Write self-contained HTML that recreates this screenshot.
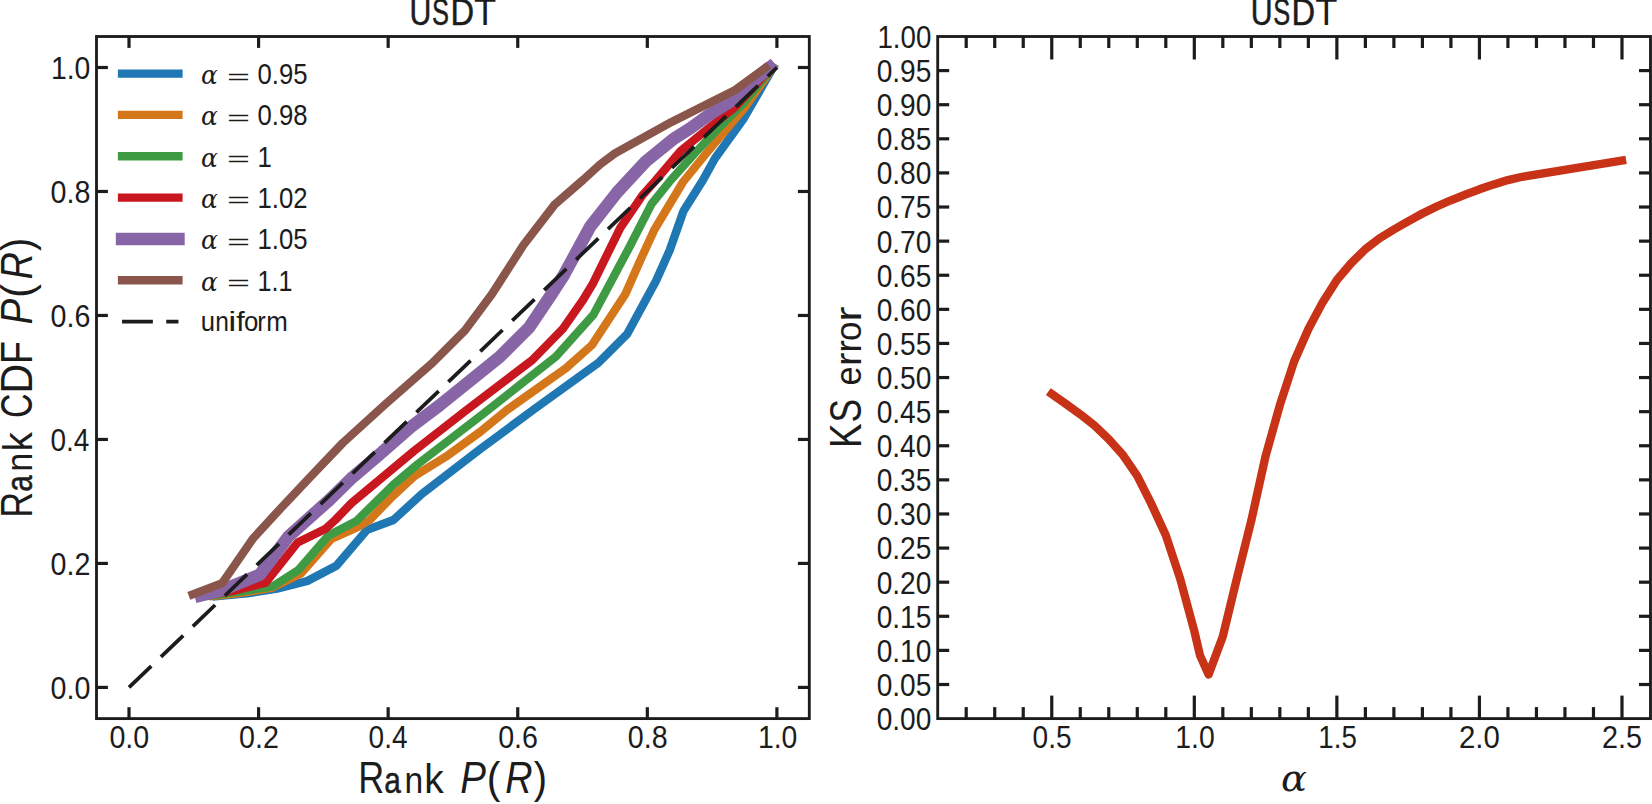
<!DOCTYPE html>
<html lang="en"><head><meta charset="utf-8"><title>USDT rank CDF and KS error</title>
<style>html,body{margin:0;padding:0;background:#fff;overflow:hidden}svg{display:block}</style></head><body>
<svg width="1652" height="804" viewBox="0 0 1652 804">
<rect x="0" y="0" width="1652" height="804" fill="#ffffff"/>
<g id="left-panel">
<polyline points="216.5,596.2 247.2,593.4 277.0,588.7 307.3,581.0 336.4,565.7 367.0,529.9 393.4,520.0 421.8,494.0 480.0,449.3 533.7,409.5 598.3,362.9 627.2,334.0 656.1,280.8 669.8,250.0 683.5,211.0 703.0,180.0 714.9,158.5 743.9,118.2 773.1,67.5" fill="none" stroke="#1f77b4" stroke-width="8.33" stroke-linecap="square" stroke-linejoin="round"/>
<polyline points="213.2,595.9 240.0,593.0 271.5,588.0 300.9,573.6 331.3,539.0 358.5,526.6 369.6,520.0 390.4,498.5 414.3,476.1 445.7,456.8 480.0,432.0 506.9,410.0 566.0,368.2 592.0,345.0 625.3,294.2 640.0,261.0 654.6,229.3 683.0,182.0 704.5,155.5 719.4,137.6 744.5,107.8 772.8,67.5" fill="none" stroke="#d4761a" stroke-width="8.33" stroke-linecap="square" stroke-linejoin="round"/>
<polyline points="210.0,595.6 240.0,591.5 273.0,586.3 298.4,570.1 328.2,535.8 356.6,520.9 393.4,484.6 417.3,464.5 483.0,414.0 556.0,356.5 593.6,314.4 630.0,246.0 651.6,203.9 670.9,180.0 695.5,152.5 719.4,127.2 743.3,103.3 772.3,67.5" fill="none" stroke="#3f9b43" stroke-width="8.33" stroke-linecap="square" stroke-linejoin="round"/>
<polyline points="207.0,595.3 231.6,591.2 265.5,582.8 297.6,542.5 325.2,529.1 335.2,520.0 351.6,503.0 414.3,450.7 466.6,410.0 532.2,360.1 562.8,328.8 583.0,300.0 593.0,283.3 620.3,227.8 642.7,194.9 656.0,180.0 680.6,151.0 704.5,131.6 734.3,107.8 771.5,67.5" fill="none" stroke="#c8171f" stroke-width="8.33" stroke-linecap="square" stroke-linejoin="round"/>
<polyline points="200.9,595.5 222.0,590.3 260.0,574.6 288.3,536.7 329.3,500.0 350.6,479.1 378.5,455.2 412.8,425.4 440.0,405.0 499.4,357.2 529.3,327.3 551.0,295.0 563.6,275.5 590.4,226.3 617.0,192.5 645.7,161.5 673.0,139.3 690.0,128.5 708.0,115.5 732.5,100.2 753.6,80.8 769.8,67.5" fill="none" stroke="#8865a6" stroke-width="12.5" stroke-linecap="square" stroke-linejoin="round"/>
<polyline points="192.7,594.3 222.2,583.1 252.8,538.8 281.5,507.5 309.9,477.3 342.7,443.0 385.0,404.5 432.2,363.1 465.1,330.3 492.0,294.0 523.3,245.3 554.6,204.6 583.0,180.0 600.0,164.5 614.9,153.3 671.6,121.9 734.3,90.6 765.5,67.7" fill="none" stroke="#8a564c" stroke-width="8.33" stroke-linecap="square" stroke-linejoin="round"/>
<line x1="129.00" y1="687.40" x2="776.90" y2="67.50" stroke="#1c1c1c" stroke-width="3.75" stroke-dasharray="30.8 13.4" stroke-linecap="butt"/>
<line x1="129.00" y1="718.60" x2="129.00" y2="707.20" stroke="#1c1c1c" stroke-width="3.2" stroke-linecap="butt"/>
<line x1="129.00" y1="36.50" x2="129.00" y2="47.90" stroke="#1c1c1c" stroke-width="3.2" stroke-linecap="butt"/>
<line x1="96.50" y1="687.40" x2="107.90" y2="687.40" stroke="#1c1c1c" stroke-width="3.2" stroke-linecap="butt"/>
<line x1="809.30" y1="687.40" x2="797.90" y2="687.40" stroke="#1c1c1c" stroke-width="3.2" stroke-linecap="butt"/>
<line x1="258.58" y1="718.60" x2="258.58" y2="707.20" stroke="#1c1c1c" stroke-width="3.2" stroke-linecap="butt"/>
<line x1="258.58" y1="36.50" x2="258.58" y2="47.90" stroke="#1c1c1c" stroke-width="3.2" stroke-linecap="butt"/>
<line x1="96.50" y1="563.42" x2="107.90" y2="563.42" stroke="#1c1c1c" stroke-width="3.2" stroke-linecap="butt"/>
<line x1="809.30" y1="563.42" x2="797.90" y2="563.42" stroke="#1c1c1c" stroke-width="3.2" stroke-linecap="butt"/>
<line x1="388.16" y1="718.60" x2="388.16" y2="707.20" stroke="#1c1c1c" stroke-width="3.2" stroke-linecap="butt"/>
<line x1="388.16" y1="36.50" x2="388.16" y2="47.90" stroke="#1c1c1c" stroke-width="3.2" stroke-linecap="butt"/>
<line x1="96.50" y1="439.44" x2="107.90" y2="439.44" stroke="#1c1c1c" stroke-width="3.2" stroke-linecap="butt"/>
<line x1="809.30" y1="439.44" x2="797.90" y2="439.44" stroke="#1c1c1c" stroke-width="3.2" stroke-linecap="butt"/>
<line x1="517.74" y1="718.60" x2="517.74" y2="707.20" stroke="#1c1c1c" stroke-width="3.2" stroke-linecap="butt"/>
<line x1="517.74" y1="36.50" x2="517.74" y2="47.90" stroke="#1c1c1c" stroke-width="3.2" stroke-linecap="butt"/>
<line x1="96.50" y1="315.46" x2="107.90" y2="315.46" stroke="#1c1c1c" stroke-width="3.2" stroke-linecap="butt"/>
<line x1="809.30" y1="315.46" x2="797.90" y2="315.46" stroke="#1c1c1c" stroke-width="3.2" stroke-linecap="butt"/>
<line x1="647.32" y1="718.60" x2="647.32" y2="707.20" stroke="#1c1c1c" stroke-width="3.2" stroke-linecap="butt"/>
<line x1="647.32" y1="36.50" x2="647.32" y2="47.90" stroke="#1c1c1c" stroke-width="3.2" stroke-linecap="butt"/>
<line x1="96.50" y1="191.48" x2="107.90" y2="191.48" stroke="#1c1c1c" stroke-width="3.2" stroke-linecap="butt"/>
<line x1="809.30" y1="191.48" x2="797.90" y2="191.48" stroke="#1c1c1c" stroke-width="3.2" stroke-linecap="butt"/>
<line x1="776.90" y1="718.60" x2="776.90" y2="707.20" stroke="#1c1c1c" stroke-width="3.2" stroke-linecap="butt"/>
<line x1="776.90" y1="36.50" x2="776.90" y2="47.90" stroke="#1c1c1c" stroke-width="3.2" stroke-linecap="butt"/>
<line x1="96.50" y1="67.50" x2="107.90" y2="67.50" stroke="#1c1c1c" stroke-width="3.2" stroke-linecap="butt"/>
<line x1="809.30" y1="67.50" x2="797.90" y2="67.50" stroke="#1c1c1c" stroke-width="3.2" stroke-linecap="butt"/>
<rect x="96.5" y="36.5" width="712.80" height="682.10" fill="none" stroke="#1c1c1c" stroke-width="2.85"/>
<text x="109.44" y="747.60" font-family='"Liberation Sans", "DejaVu Sans", sans-serif' font-size="31.5" fill="#1c1c1c" textLength="39.84" lengthAdjust="spacingAndGlyphs">0.0</text>
<text x="50.49" y="698.80" font-family='"Liberation Sans", "DejaVu Sans", sans-serif' font-size="31.5" fill="#1c1c1c" textLength="39.84" lengthAdjust="spacingAndGlyphs">0.0</text>
<text x="239.02" y="747.60" font-family='"Liberation Sans", "DejaVu Sans", sans-serif' font-size="31.5" fill="#1c1c1c" textLength="39.84" lengthAdjust="spacingAndGlyphs">0.2</text>
<text x="50.49" y="574.82" font-family='"Liberation Sans", "DejaVu Sans", sans-serif' font-size="31.5" fill="#1c1c1c" textLength="39.84" lengthAdjust="spacingAndGlyphs">0.2</text>
<text x="368.62" y="747.60" font-family='"Liberation Sans", "DejaVu Sans", sans-serif' font-size="31.5" fill="#1c1c1c" textLength="38.90" lengthAdjust="spacingAndGlyphs">0.4</text>
<text x="50.51" y="450.84" font-family='"Liberation Sans", "DejaVu Sans", sans-serif' font-size="31.5" fill="#1c1c1c" textLength="38.90" lengthAdjust="spacingAndGlyphs">0.4</text>
<text x="498.18" y="747.60" font-family='"Liberation Sans", "DejaVu Sans", sans-serif' font-size="31.5" fill="#1c1c1c" textLength="39.84" lengthAdjust="spacingAndGlyphs">0.6</text>
<text x="50.49" y="326.86" font-family='"Liberation Sans", "DejaVu Sans", sans-serif' font-size="31.5" fill="#1c1c1c" textLength="39.84" lengthAdjust="spacingAndGlyphs">0.6</text>
<text x="627.76" y="747.60" font-family='"Liberation Sans", "DejaVu Sans", sans-serif' font-size="31.5" fill="#1c1c1c" textLength="39.84" lengthAdjust="spacingAndGlyphs">0.8</text>
<text x="50.49" y="202.88" font-family='"Liberation Sans", "DejaVu Sans", sans-serif' font-size="31.5" fill="#1c1c1c" textLength="39.84" lengthAdjust="spacingAndGlyphs">0.8</text>
<text x="757.90" y="747.60" font-family='"Liberation Sans", "DejaVu Sans", sans-serif' font-size="31.5" fill="#1c1c1c" textLength="39.42" lengthAdjust="spacingAndGlyphs">1.0</text>
<text x="50.90" y="78.90" font-family='"Liberation Sans", "DejaVu Sans", sans-serif' font-size="31.5" fill="#1c1c1c" textLength="39.42" lengthAdjust="spacingAndGlyphs">1.0</text>
<text y="25.00" font-family='"Liberation Sans", "DejaVu Sans", sans-serif' fill="#1c1c1c"><tspan x="409.60" font-size="36.3" stroke="#1c1c1c" stroke-width="0.5" textLength="21.89" lengthAdjust="spacingAndGlyphs">U</tspan><tspan x="432.00" font-size="36.3" stroke="#1c1c1c" stroke-width="0.5" textLength="16.95" lengthAdjust="spacingAndGlyphs">S</tspan><tspan x="450.40" font-size="36.3" stroke="#1c1c1c" stroke-width="0.5" textLength="23.60" lengthAdjust="spacingAndGlyphs">D</tspan><tspan x="474.00" font-size="36.3" textLength="22.17" lengthAdjust="spacingAndGlyphs">T</tspan></text>
<text y="793.30" font-family='"Liberation Sans", "DejaVu Sans", sans-serif' fill="#1c1c1c"><tspan x="358.25" font-size="43.5" textLength="25.95" lengthAdjust="spacingAndGlyphs">R</tspan><tspan x="384.26" font-size="36.3" stroke="#1c1c1c" stroke-width="0.5" textLength="16.60" lengthAdjust="spacingAndGlyphs">a</tspan><tspan x="404.55" font-size="36.3" textLength="18.67" lengthAdjust="spacingAndGlyphs">n</tspan><tspan x="424.35" font-size="41.0" textLength="19.48" lengthAdjust="spacingAndGlyphs">k</tspan> <tspan x="460.21" font-size="43.5" font-style="italic" textLength="25.70" lengthAdjust="spacingAndGlyphs">P</tspan><tspan x="486.76" font-size="43.5" textLength="13.71" lengthAdjust="spacingAndGlyphs">(</tspan><tspan x="505.23" font-size="43.5" font-style="italic" textLength="27.30" lengthAdjust="spacingAndGlyphs">R</tspan><tspan x="533.68" font-size="43.5" textLength="13.31" lengthAdjust="spacingAndGlyphs">)</tspan></text>
<text y="0" transform="translate(32.40,514.40) rotate(-90)" font-family='"Liberation Sans", "DejaVu Sans", sans-serif' fill="#1c1c1c"><tspan x="-3.30" font-size="43.5" textLength="25.95" lengthAdjust="spacingAndGlyphs">R</tspan><tspan x="22.71" font-size="36.3" stroke="#1c1c1c" stroke-width="0.5" textLength="16.60" lengthAdjust="spacingAndGlyphs">a</tspan><tspan x="43.00" font-size="36.3" textLength="18.67" lengthAdjust="spacingAndGlyphs">n</tspan><tspan x="62.80" font-size="41.0" textLength="19.47" lengthAdjust="spacingAndGlyphs">k</tspan> <tspan x="96.44" font-size="43.5" textLength="24.56" lengthAdjust="spacingAndGlyphs">C</tspan><tspan x="120.92" font-size="43.5" textLength="29.66" lengthAdjust="spacingAndGlyphs">D</tspan><tspan x="150.45" font-size="43.5" textLength="22.91" lengthAdjust="spacingAndGlyphs">F</tspan> <tspan x="190.01" font-size="43.5" font-style="italic" textLength="25.70" lengthAdjust="spacingAndGlyphs">P</tspan><tspan x="216.56" font-size="43.5" textLength="13.71" lengthAdjust="spacingAndGlyphs">(</tspan><tspan x="235.03" font-size="43.5" font-style="italic" textLength="27.30" lengthAdjust="spacingAndGlyphs">R</tspan><tspan x="263.48" font-size="43.5" textLength="13.31" lengthAdjust="spacingAndGlyphs">)</tspan></text>
<line x1="122.05" y1="73.60" x2="178.45" y2="73.60" stroke="#1f77b4" stroke-width="8.33" stroke-linecap="square"/>
<text x="201.0" y="83.90" font-size="30.0" fill="#1c1c1c"><tspan font-family='"DejaVu Serif", "Liberation Serif", serif' font-style="italic" font-size="26" textLength="16.8" lengthAdjust="spacingAndGlyphs">α</tspan> <tspan x="227.0" dy="-0.4" font-family='"Liberation Sans", "DejaVu Sans", sans-serif' font-size="20" textLength="23.0" lengthAdjust="spacingAndGlyphs" font-weight="normal">=</tspan> <tspan x="257.5" dy="0.4" font-family='"Liberation Sans", "DejaVu Sans", sans-serif' textLength="50.0" lengthAdjust="spacingAndGlyphs">0.95</tspan></text>
<line x1="122.05" y1="114.93" x2="178.45" y2="114.93" stroke="#d4761a" stroke-width="8.33" stroke-linecap="square"/>
<text x="201.0" y="125.23" font-size="30.0" fill="#1c1c1c"><tspan font-family='"DejaVu Serif", "Liberation Serif", serif' font-style="italic" font-size="26" textLength="16.8" lengthAdjust="spacingAndGlyphs">α</tspan> <tspan x="227.0" dy="-0.4" font-family='"Liberation Sans", "DejaVu Sans", sans-serif' font-size="20" textLength="23.0" lengthAdjust="spacingAndGlyphs" font-weight="normal">=</tspan> <tspan x="257.5" dy="0.4" font-family='"Liberation Sans", "DejaVu Sans", sans-serif' textLength="50.0" lengthAdjust="spacingAndGlyphs">0.98</tspan></text>
<line x1="122.05" y1="156.26" x2="178.45" y2="156.26" stroke="#3f9b43" stroke-width="8.33" stroke-linecap="square"/>
<text x="201.0" y="166.56" font-size="30.0" fill="#1c1c1c"><tspan font-family='"DejaVu Serif", "Liberation Serif", serif' font-style="italic" font-size="26" textLength="16.8" lengthAdjust="spacingAndGlyphs">α</tspan> <tspan x="227.0" dy="-0.4" font-family='"Liberation Sans", "DejaVu Sans", sans-serif' font-size="20" textLength="23.0" lengthAdjust="spacingAndGlyphs" font-weight="normal">=</tspan> <tspan x="257.5" dy="0.4" font-family='"Liberation Sans", "DejaVu Sans", sans-serif' textLength="14.3" lengthAdjust="spacingAndGlyphs">1</tspan></text>
<line x1="122.05" y1="197.59" x2="178.45" y2="197.59" stroke="#c8171f" stroke-width="8.33" stroke-linecap="square"/>
<text x="201.0" y="207.89" font-size="30.0" fill="#1c1c1c"><tspan font-family='"DejaVu Serif", "Liberation Serif", serif' font-style="italic" font-size="26" textLength="16.8" lengthAdjust="spacingAndGlyphs">α</tspan> <tspan x="227.0" dy="-0.4" font-family='"Liberation Sans", "DejaVu Sans", sans-serif' font-size="20" textLength="23.0" lengthAdjust="spacingAndGlyphs" font-weight="normal">=</tspan> <tspan x="257.5" dy="0.4" font-family='"Liberation Sans", "DejaVu Sans", sans-serif' textLength="50.0" lengthAdjust="spacingAndGlyphs">1.02</tspan></text>
<line x1="122.05" y1="238.92" x2="178.45" y2="238.92" stroke="#8865a6" stroke-width="12.5" stroke-linecap="square"/>
<text x="201.0" y="249.22" font-size="30.0" fill="#1c1c1c"><tspan font-family='"DejaVu Serif", "Liberation Serif", serif' font-style="italic" font-size="26" textLength="16.8" lengthAdjust="spacingAndGlyphs">α</tspan> <tspan x="227.0" dy="-0.4" font-family='"Liberation Sans", "DejaVu Sans", sans-serif' font-size="20" textLength="23.0" lengthAdjust="spacingAndGlyphs" font-weight="normal">=</tspan> <tspan x="257.5" dy="0.4" font-family='"Liberation Sans", "DejaVu Sans", sans-serif' textLength="50.0" lengthAdjust="spacingAndGlyphs">1.05</tspan></text>
<line x1="122.05" y1="280.25" x2="178.45" y2="280.25" stroke="#8a564c" stroke-width="8.33" stroke-linecap="square"/>
<text x="201.0" y="290.55" font-size="30.0" fill="#1c1c1c"><tspan font-family='"DejaVu Serif", "Liberation Serif", serif' font-style="italic" font-size="26" textLength="16.8" lengthAdjust="spacingAndGlyphs">α</tspan> <tspan x="227.0" dy="-0.4" font-family='"Liberation Sans", "DejaVu Sans", sans-serif' font-size="20" textLength="23.0" lengthAdjust="spacingAndGlyphs" font-weight="normal">=</tspan> <tspan x="257.5" dy="0.4" font-family='"Liberation Sans", "DejaVu Sans", sans-serif' textLength="35.0" lengthAdjust="spacingAndGlyphs">1.1</tspan></text>
<line x1="122.05" y1="321.58" x2="178.45" y2="321.58" stroke="#1c1c1c" stroke-width="3.75" stroke-dasharray="30.8 13.4"/>
<text y="331.48" font-family='"Liberation Sans", "DejaVu Sans", sans-serif' fill="#1c1c1c"><tspan x="200.85" font-size="27.0" textLength="14.28" lengthAdjust="spacingAndGlyphs">u</tspan><tspan x="215.28" font-size="27.0" textLength="13.66" lengthAdjust="spacingAndGlyphs">n</tspan><tspan x="228.30" font-size="27.0" textLength="8.10" lengthAdjust="spacingAndGlyphs">i</tspan><tspan x="236.20" font-size="27.0" textLength="8.46" lengthAdjust="spacingAndGlyphs">f</tspan><tspan x="243.95" font-size="27.0" textLength="14.34" lengthAdjust="spacingAndGlyphs">o</tspan><tspan x="257.31" font-size="27.0" textLength="8.49" lengthAdjust="spacingAndGlyphs">r</tspan><tspan x="266.28" font-size="27.0" textLength="21.55" lengthAdjust="spacingAndGlyphs">m</tspan></text>
</g>
<g id="right-panel">
<polyline points="1051.7,394.0 1066.0,404.0 1080.3,414.3 1094.5,425.6 1108.8,439.2 1123.0,455.1 1137.3,476.0 1151.5,504.2 1165.8,535.3 1180.1,578.5 1194.3,631.0 1200.0,655.4 1208.6,674.5 1222.8,636.5 1237.1,577.5 1251.3,520.6 1265.6,456.0 1279.8,405.3 1294.1,361.5 1308.4,329.0 1322.6,302.4 1336.9,280.0 1351.1,263.2 1365.4,249.1 1379.6,238.3 1393.9,229.5 1408.1,221.3 1422.4,213.5 1436.7,206.5 1450.9,200.3 1465.2,194.7 1479.4,189.3 1493.7,184.4 1507.9,180.1 1522.2,176.8 1622.0,160.6" fill="none" stroke="#c83216" stroke-width="8.33" stroke-linecap="square" stroke-linejoin="round"/>
<line x1="966.21" y1="718.60" x2="966.21" y2="707.10" stroke="#1c1c1c" stroke-width="3.2" stroke-linecap="butt"/>
<line x1="966.21" y1="36.50" x2="966.21" y2="48.00" stroke="#1c1c1c" stroke-width="3.2" stroke-linecap="butt"/>
<line x1="994.72" y1="718.60" x2="994.72" y2="707.10" stroke="#1c1c1c" stroke-width="3.2" stroke-linecap="butt"/>
<line x1="994.72" y1="36.50" x2="994.72" y2="48.00" stroke="#1c1c1c" stroke-width="3.2" stroke-linecap="butt"/>
<line x1="1023.24" y1="718.60" x2="1023.24" y2="707.10" stroke="#1c1c1c" stroke-width="3.2" stroke-linecap="butt"/>
<line x1="1023.24" y1="36.50" x2="1023.24" y2="48.00" stroke="#1c1c1c" stroke-width="3.2" stroke-linecap="butt"/>
<line x1="1051.75" y1="718.60" x2="1051.75" y2="695.60" stroke="#1c1c1c" stroke-width="3.2" stroke-linecap="butt"/>
<line x1="1051.75" y1="36.50" x2="1051.75" y2="59.50" stroke="#1c1c1c" stroke-width="3.2" stroke-linecap="butt"/>
<line x1="1080.26" y1="718.60" x2="1080.26" y2="707.10" stroke="#1c1c1c" stroke-width="3.2" stroke-linecap="butt"/>
<line x1="1080.26" y1="36.50" x2="1080.26" y2="48.00" stroke="#1c1c1c" stroke-width="3.2" stroke-linecap="butt"/>
<line x1="1108.77" y1="718.60" x2="1108.77" y2="707.10" stroke="#1c1c1c" stroke-width="3.2" stroke-linecap="butt"/>
<line x1="1108.77" y1="36.50" x2="1108.77" y2="48.00" stroke="#1c1c1c" stroke-width="3.2" stroke-linecap="butt"/>
<line x1="1137.28" y1="718.60" x2="1137.28" y2="707.10" stroke="#1c1c1c" stroke-width="3.2" stroke-linecap="butt"/>
<line x1="1137.28" y1="36.50" x2="1137.28" y2="48.00" stroke="#1c1c1c" stroke-width="3.2" stroke-linecap="butt"/>
<line x1="1165.80" y1="718.60" x2="1165.80" y2="707.10" stroke="#1c1c1c" stroke-width="3.2" stroke-linecap="butt"/>
<line x1="1165.80" y1="36.50" x2="1165.80" y2="48.00" stroke="#1c1c1c" stroke-width="3.2" stroke-linecap="butt"/>
<line x1="1194.31" y1="718.60" x2="1194.31" y2="695.60" stroke="#1c1c1c" stroke-width="3.2" stroke-linecap="butt"/>
<line x1="1194.31" y1="36.50" x2="1194.31" y2="59.50" stroke="#1c1c1c" stroke-width="3.2" stroke-linecap="butt"/>
<line x1="1222.82" y1="718.60" x2="1222.82" y2="707.10" stroke="#1c1c1c" stroke-width="3.2" stroke-linecap="butt"/>
<line x1="1222.82" y1="36.50" x2="1222.82" y2="48.00" stroke="#1c1c1c" stroke-width="3.2" stroke-linecap="butt"/>
<line x1="1251.33" y1="718.60" x2="1251.33" y2="707.10" stroke="#1c1c1c" stroke-width="3.2" stroke-linecap="butt"/>
<line x1="1251.33" y1="36.50" x2="1251.33" y2="48.00" stroke="#1c1c1c" stroke-width="3.2" stroke-linecap="butt"/>
<line x1="1279.84" y1="718.60" x2="1279.84" y2="707.10" stroke="#1c1c1c" stroke-width="3.2" stroke-linecap="butt"/>
<line x1="1279.84" y1="36.50" x2="1279.84" y2="48.00" stroke="#1c1c1c" stroke-width="3.2" stroke-linecap="butt"/>
<line x1="1308.36" y1="718.60" x2="1308.36" y2="707.10" stroke="#1c1c1c" stroke-width="3.2" stroke-linecap="butt"/>
<line x1="1308.36" y1="36.50" x2="1308.36" y2="48.00" stroke="#1c1c1c" stroke-width="3.2" stroke-linecap="butt"/>
<line x1="1336.87" y1="718.60" x2="1336.87" y2="695.60" stroke="#1c1c1c" stroke-width="3.2" stroke-linecap="butt"/>
<line x1="1336.87" y1="36.50" x2="1336.87" y2="59.50" stroke="#1c1c1c" stroke-width="3.2" stroke-linecap="butt"/>
<line x1="1365.38" y1="718.60" x2="1365.38" y2="707.10" stroke="#1c1c1c" stroke-width="3.2" stroke-linecap="butt"/>
<line x1="1365.38" y1="36.50" x2="1365.38" y2="48.00" stroke="#1c1c1c" stroke-width="3.2" stroke-linecap="butt"/>
<line x1="1393.89" y1="718.60" x2="1393.89" y2="707.10" stroke="#1c1c1c" stroke-width="3.2" stroke-linecap="butt"/>
<line x1="1393.89" y1="36.50" x2="1393.89" y2="48.00" stroke="#1c1c1c" stroke-width="3.2" stroke-linecap="butt"/>
<line x1="1422.40" y1="718.60" x2="1422.40" y2="707.10" stroke="#1c1c1c" stroke-width="3.2" stroke-linecap="butt"/>
<line x1="1422.40" y1="36.50" x2="1422.40" y2="48.00" stroke="#1c1c1c" stroke-width="3.2" stroke-linecap="butt"/>
<line x1="1450.92" y1="718.60" x2="1450.92" y2="707.10" stroke="#1c1c1c" stroke-width="3.2" stroke-linecap="butt"/>
<line x1="1450.92" y1="36.50" x2="1450.92" y2="48.00" stroke="#1c1c1c" stroke-width="3.2" stroke-linecap="butt"/>
<line x1="1479.43" y1="718.60" x2="1479.43" y2="695.60" stroke="#1c1c1c" stroke-width="3.2" stroke-linecap="butt"/>
<line x1="1479.43" y1="36.50" x2="1479.43" y2="59.50" stroke="#1c1c1c" stroke-width="3.2" stroke-linecap="butt"/>
<line x1="1507.94" y1="718.60" x2="1507.94" y2="707.10" stroke="#1c1c1c" stroke-width="3.2" stroke-linecap="butt"/>
<line x1="1507.94" y1="36.50" x2="1507.94" y2="48.00" stroke="#1c1c1c" stroke-width="3.2" stroke-linecap="butt"/>
<line x1="1536.45" y1="718.60" x2="1536.45" y2="707.10" stroke="#1c1c1c" stroke-width="3.2" stroke-linecap="butt"/>
<line x1="1536.45" y1="36.50" x2="1536.45" y2="48.00" stroke="#1c1c1c" stroke-width="3.2" stroke-linecap="butt"/>
<line x1="1564.96" y1="718.60" x2="1564.96" y2="707.10" stroke="#1c1c1c" stroke-width="3.2" stroke-linecap="butt"/>
<line x1="1564.96" y1="36.50" x2="1564.96" y2="48.00" stroke="#1c1c1c" stroke-width="3.2" stroke-linecap="butt"/>
<line x1="1593.48" y1="718.60" x2="1593.48" y2="707.10" stroke="#1c1c1c" stroke-width="3.2" stroke-linecap="butt"/>
<line x1="1593.48" y1="36.50" x2="1593.48" y2="48.00" stroke="#1c1c1c" stroke-width="3.2" stroke-linecap="butt"/>
<line x1="1621.99" y1="718.60" x2="1621.99" y2="695.60" stroke="#1c1c1c" stroke-width="3.2" stroke-linecap="butt"/>
<line x1="1621.99" y1="36.50" x2="1621.99" y2="59.50" stroke="#1c1c1c" stroke-width="3.2" stroke-linecap="butt"/>
<line x1="937.70" y1="684.50" x2="949.20" y2="684.50" stroke="#1c1c1c" stroke-width="3.2" stroke-linecap="butt"/>
<line x1="1650.50" y1="684.50" x2="1639.00" y2="684.50" stroke="#1c1c1c" stroke-width="3.2" stroke-linecap="butt"/>
<line x1="937.70" y1="650.39" x2="949.20" y2="650.39" stroke="#1c1c1c" stroke-width="3.2" stroke-linecap="butt"/>
<line x1="1650.50" y1="650.39" x2="1639.00" y2="650.39" stroke="#1c1c1c" stroke-width="3.2" stroke-linecap="butt"/>
<line x1="937.70" y1="616.28" x2="949.20" y2="616.28" stroke="#1c1c1c" stroke-width="3.2" stroke-linecap="butt"/>
<line x1="1650.50" y1="616.28" x2="1639.00" y2="616.28" stroke="#1c1c1c" stroke-width="3.2" stroke-linecap="butt"/>
<line x1="937.70" y1="582.18" x2="949.20" y2="582.18" stroke="#1c1c1c" stroke-width="3.2" stroke-linecap="butt"/>
<line x1="1650.50" y1="582.18" x2="1639.00" y2="582.18" stroke="#1c1c1c" stroke-width="3.2" stroke-linecap="butt"/>
<line x1="937.70" y1="548.08" x2="949.20" y2="548.08" stroke="#1c1c1c" stroke-width="3.2" stroke-linecap="butt"/>
<line x1="1650.50" y1="548.08" x2="1639.00" y2="548.08" stroke="#1c1c1c" stroke-width="3.2" stroke-linecap="butt"/>
<line x1="937.70" y1="513.97" x2="949.20" y2="513.97" stroke="#1c1c1c" stroke-width="3.2" stroke-linecap="butt"/>
<line x1="1650.50" y1="513.97" x2="1639.00" y2="513.97" stroke="#1c1c1c" stroke-width="3.2" stroke-linecap="butt"/>
<line x1="937.70" y1="479.87" x2="949.20" y2="479.87" stroke="#1c1c1c" stroke-width="3.2" stroke-linecap="butt"/>
<line x1="1650.50" y1="479.87" x2="1639.00" y2="479.87" stroke="#1c1c1c" stroke-width="3.2" stroke-linecap="butt"/>
<line x1="937.70" y1="445.76" x2="949.20" y2="445.76" stroke="#1c1c1c" stroke-width="3.2" stroke-linecap="butt"/>
<line x1="1650.50" y1="445.76" x2="1639.00" y2="445.76" stroke="#1c1c1c" stroke-width="3.2" stroke-linecap="butt"/>
<line x1="937.70" y1="411.66" x2="949.20" y2="411.66" stroke="#1c1c1c" stroke-width="3.2" stroke-linecap="butt"/>
<line x1="1650.50" y1="411.66" x2="1639.00" y2="411.66" stroke="#1c1c1c" stroke-width="3.2" stroke-linecap="butt"/>
<line x1="937.70" y1="377.55" x2="949.20" y2="377.55" stroke="#1c1c1c" stroke-width="3.2" stroke-linecap="butt"/>
<line x1="1650.50" y1="377.55" x2="1639.00" y2="377.55" stroke="#1c1c1c" stroke-width="3.2" stroke-linecap="butt"/>
<line x1="937.70" y1="343.44" x2="949.20" y2="343.44" stroke="#1c1c1c" stroke-width="3.2" stroke-linecap="butt"/>
<line x1="1650.50" y1="343.44" x2="1639.00" y2="343.44" stroke="#1c1c1c" stroke-width="3.2" stroke-linecap="butt"/>
<line x1="937.70" y1="309.34" x2="949.20" y2="309.34" stroke="#1c1c1c" stroke-width="3.2" stroke-linecap="butt"/>
<line x1="1650.50" y1="309.34" x2="1639.00" y2="309.34" stroke="#1c1c1c" stroke-width="3.2" stroke-linecap="butt"/>
<line x1="937.70" y1="275.24" x2="949.20" y2="275.24" stroke="#1c1c1c" stroke-width="3.2" stroke-linecap="butt"/>
<line x1="1650.50" y1="275.24" x2="1639.00" y2="275.24" stroke="#1c1c1c" stroke-width="3.2" stroke-linecap="butt"/>
<line x1="937.70" y1="241.13" x2="949.20" y2="241.13" stroke="#1c1c1c" stroke-width="3.2" stroke-linecap="butt"/>
<line x1="1650.50" y1="241.13" x2="1639.00" y2="241.13" stroke="#1c1c1c" stroke-width="3.2" stroke-linecap="butt"/>
<line x1="937.70" y1="207.02" x2="949.20" y2="207.02" stroke="#1c1c1c" stroke-width="3.2" stroke-linecap="butt"/>
<line x1="1650.50" y1="207.02" x2="1639.00" y2="207.02" stroke="#1c1c1c" stroke-width="3.2" stroke-linecap="butt"/>
<line x1="937.70" y1="172.92" x2="949.20" y2="172.92" stroke="#1c1c1c" stroke-width="3.2" stroke-linecap="butt"/>
<line x1="1650.50" y1="172.92" x2="1639.00" y2="172.92" stroke="#1c1c1c" stroke-width="3.2" stroke-linecap="butt"/>
<line x1="937.70" y1="138.81" x2="949.20" y2="138.81" stroke="#1c1c1c" stroke-width="3.2" stroke-linecap="butt"/>
<line x1="1650.50" y1="138.81" x2="1639.00" y2="138.81" stroke="#1c1c1c" stroke-width="3.2" stroke-linecap="butt"/>
<line x1="937.70" y1="104.71" x2="949.20" y2="104.71" stroke="#1c1c1c" stroke-width="3.2" stroke-linecap="butt"/>
<line x1="1650.50" y1="104.71" x2="1639.00" y2="104.71" stroke="#1c1c1c" stroke-width="3.2" stroke-linecap="butt"/>
<line x1="937.70" y1="70.60" x2="949.20" y2="70.60" stroke="#1c1c1c" stroke-width="3.2" stroke-linecap="butt"/>
<line x1="1650.50" y1="70.60" x2="1639.00" y2="70.60" stroke="#1c1c1c" stroke-width="3.2" stroke-linecap="butt"/>
<rect x="937.7" y="36.5" width="712.80" height="682.10" fill="none" stroke="#1c1c1c" stroke-width="2.85"/>
<text x="876.66" y="730.00" font-family='"Liberation Sans", "DejaVu Sans", sans-serif' font-size="31.5" fill="#1c1c1c" textLength="54.71" lengthAdjust="spacingAndGlyphs">0.00</text>
<text x="876.66" y="695.89" font-family='"Liberation Sans", "DejaVu Sans", sans-serif' font-size="31.5" fill="#1c1c1c" textLength="54.71" lengthAdjust="spacingAndGlyphs">0.05</text>
<text x="876.66" y="661.79" font-family='"Liberation Sans", "DejaVu Sans", sans-serif' font-size="31.5" fill="#1c1c1c" textLength="54.71" lengthAdjust="spacingAndGlyphs">0.10</text>
<text x="876.66" y="627.68" font-family='"Liberation Sans", "DejaVu Sans", sans-serif' font-size="31.5" fill="#1c1c1c" textLength="54.71" lengthAdjust="spacingAndGlyphs">0.15</text>
<text x="876.66" y="593.58" font-family='"Liberation Sans", "DejaVu Sans", sans-serif' font-size="31.5" fill="#1c1c1c" textLength="54.71" lengthAdjust="spacingAndGlyphs">0.20</text>
<text x="876.66" y="559.48" font-family='"Liberation Sans", "DejaVu Sans", sans-serif' font-size="31.5" fill="#1c1c1c" textLength="54.71" lengthAdjust="spacingAndGlyphs">0.25</text>
<text x="876.66" y="525.37" font-family='"Liberation Sans", "DejaVu Sans", sans-serif' font-size="31.5" fill="#1c1c1c" textLength="54.71" lengthAdjust="spacingAndGlyphs">0.30</text>
<text x="876.66" y="491.26" font-family='"Liberation Sans", "DejaVu Sans", sans-serif' font-size="31.5" fill="#1c1c1c" textLength="54.71" lengthAdjust="spacingAndGlyphs">0.35</text>
<text x="876.66" y="457.16" font-family='"Liberation Sans", "DejaVu Sans", sans-serif' font-size="31.5" fill="#1c1c1c" textLength="54.71" lengthAdjust="spacingAndGlyphs">0.40</text>
<text x="876.66" y="423.06" font-family='"Liberation Sans", "DejaVu Sans", sans-serif' font-size="31.5" fill="#1c1c1c" textLength="54.71" lengthAdjust="spacingAndGlyphs">0.45</text>
<text x="876.66" y="388.95" font-family='"Liberation Sans", "DejaVu Sans", sans-serif' font-size="31.5" fill="#1c1c1c" textLength="54.71" lengthAdjust="spacingAndGlyphs">0.50</text>
<text x="876.66" y="354.84" font-family='"Liberation Sans", "DejaVu Sans", sans-serif' font-size="31.5" fill="#1c1c1c" textLength="54.71" lengthAdjust="spacingAndGlyphs">0.55</text>
<text x="876.66" y="320.74" font-family='"Liberation Sans", "DejaVu Sans", sans-serif' font-size="31.5" fill="#1c1c1c" textLength="54.71" lengthAdjust="spacingAndGlyphs">0.60</text>
<text x="876.66" y="286.63" font-family='"Liberation Sans", "DejaVu Sans", sans-serif' font-size="31.5" fill="#1c1c1c" textLength="54.71" lengthAdjust="spacingAndGlyphs">0.65</text>
<text x="876.66" y="252.53" font-family='"Liberation Sans", "DejaVu Sans", sans-serif' font-size="31.5" fill="#1c1c1c" textLength="54.71" lengthAdjust="spacingAndGlyphs">0.70</text>
<text x="876.66" y="218.42" font-family='"Liberation Sans", "DejaVu Sans", sans-serif' font-size="31.5" fill="#1c1c1c" textLength="54.71" lengthAdjust="spacingAndGlyphs">0.75</text>
<text x="876.66" y="184.32" font-family='"Liberation Sans", "DejaVu Sans", sans-serif' font-size="31.5" fill="#1c1c1c" textLength="54.71" lengthAdjust="spacingAndGlyphs">0.80</text>
<text x="876.66" y="150.21" font-family='"Liberation Sans", "DejaVu Sans", sans-serif' font-size="31.5" fill="#1c1c1c" textLength="54.71" lengthAdjust="spacingAndGlyphs">0.85</text>
<text x="876.66" y="116.11" font-family='"Liberation Sans", "DejaVu Sans", sans-serif' font-size="31.5" fill="#1c1c1c" textLength="54.71" lengthAdjust="spacingAndGlyphs">0.90</text>
<text x="876.66" y="82.00" font-family='"Liberation Sans", "DejaVu Sans", sans-serif' font-size="31.5" fill="#1c1c1c" textLength="54.71" lengthAdjust="spacingAndGlyphs">0.95</text>
<text x="877.44" y="47.90" font-family='"Liberation Sans", "DejaVu Sans", sans-serif' font-size="31.5" fill="#1c1c1c" textLength="53.91" lengthAdjust="spacingAndGlyphs">1.00</text>
<text x="1032.61" y="747.60" font-family='"Liberation Sans", "DejaVu Sans", sans-serif' font-size="31.5" fill="#1c1c1c" textLength="38.99" lengthAdjust="spacingAndGlyphs">0.5</text>
<text x="1175.31" y="747.60" font-family='"Liberation Sans", "DejaVu Sans", sans-serif' font-size="31.5" fill="#1c1c1c" textLength="39.42" lengthAdjust="spacingAndGlyphs">1.0</text>
<text x="1318.31" y="747.60" font-family='"Liberation Sans", "DejaVu Sans", sans-serif' font-size="31.5" fill="#1c1c1c" textLength="38.54" lengthAdjust="spacingAndGlyphs">1.5</text>
<text x="1458.91" y="747.60" font-family='"Liberation Sans", "DejaVu Sans", sans-serif' font-size="31.5" fill="#1c1c1c" textLength="40.84" lengthAdjust="spacingAndGlyphs">2.0</text>
<text x="1601.91" y="747.60" font-family='"Liberation Sans", "DejaVu Sans", sans-serif' font-size="31.5" fill="#1c1c1c" textLength="39.96" lengthAdjust="spacingAndGlyphs">2.5</text>
<text y="25.00" font-family='"Liberation Sans", "DejaVu Sans", sans-serif' fill="#1c1c1c"><tspan x="1250.80" font-size="36.3" stroke="#1c1c1c" stroke-width="0.5" textLength="21.89" lengthAdjust="spacingAndGlyphs">U</tspan><tspan x="1273.20" font-size="36.3" stroke="#1c1c1c" stroke-width="0.5" textLength="16.95" lengthAdjust="spacingAndGlyphs">S</tspan><tspan x="1291.60" font-size="36.3" stroke="#1c1c1c" stroke-width="0.5" textLength="23.60" lengthAdjust="spacingAndGlyphs">D</tspan><tspan x="1315.20" font-size="36.3" textLength="22.17" lengthAdjust="spacingAndGlyphs">T</tspan></text>
<text y="0" transform="translate(860.60,444.70) rotate(-90)" font-family='"Liberation Sans", "DejaVu Sans", sans-serif' fill="#1c1c1c"><tspan x="-3.38" font-size="43.5" textLength="24.54" lengthAdjust="spacingAndGlyphs">K</tspan><tspan x="22.28" font-size="43.5" textLength="23.56" lengthAdjust="spacingAndGlyphs">S</tspan> <tspan x="59.22" font-size="36.3" textLength="19.00" lengthAdjust="spacingAndGlyphs">e</tspan><tspan x="78.78" font-size="36.3" textLength="13.44" lengthAdjust="spacingAndGlyphs">r</tspan><tspan x="91.89" font-size="36.3" textLength="12.77" lengthAdjust="spacingAndGlyphs">r</tspan><tspan x="103.58" font-size="36.3" textLength="19.36" lengthAdjust="spacingAndGlyphs">o</tspan><tspan x="122.87" font-size="36.3" textLength="15.32" lengthAdjust="spacingAndGlyphs">r</tspan></text>
<text x="1281.00" y="791.30" font-family='"DejaVu Serif", "Liberation Serif", serif' font-size="38" fill="#1c1c1c" font-style="italic" textLength="26.00" lengthAdjust="spacingAndGlyphs" >α</text>
</g>
</svg></body></html>
